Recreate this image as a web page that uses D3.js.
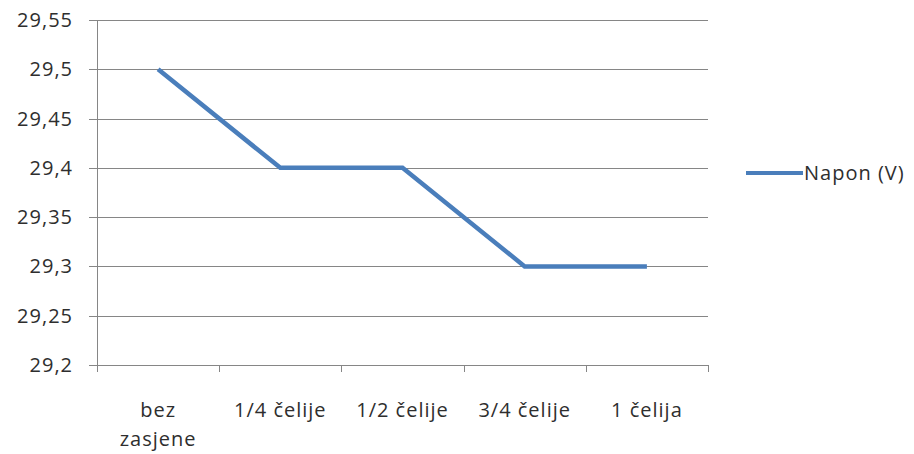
<!doctype html>
<html lang="hr">
<head>
<meta charset="UTF-8" />
<title>Napon (V)</title>
<script src="https://d3js.org/d3.v7.min.js"></script>
<style>
  body { margin: 0; background: #fff; }
  text { font-family: "Open Sans", "Noto Sans", sans-serif; fill: #2e2e2e; font-size: 20px; letter-spacing: 1px; }
</style>
</head>
<body>
<div id="graph"></div>
<script>
// data
var categories = [["bez", "zasjene"], ["1/4 čelije"], ["1/2 čelije"], ["3/4 čelije"], ["1 čelija"]];
var napon = [29.5, 29.4, 29.4, 29.3, 29.3];
var yTicks = [29.2, 29.25, 29.3, 29.35, 29.4, 29.45, 29.5, 29.55];
var seriesName = "Napon (V)";

var width = 914, height = 454;
var m = { left: 97, right: 708, top: 20, bottom: 365 };

var svg = d3.select("#graph").append("svg")
    .attr("width", width)
    .attr("height", height);

var x = d3.scaleBand()
    .domain(d3.range(categories.length))
    .range([m.left, m.right]);

var y = d3.scaleLinear()
    .domain([29.2, 29.55])
    .range([m.bottom, m.top]);

// gridlines
svg.append("g").selectAll("line")
    .data(yTicks)
    .enter().append("line")
    .attr("x1", m.left - 8)
    .attr("x2", m.right)
    .attr("y1", d => Math.round(y(d)) + 0.5)
    .attr("y2", d => Math.round(y(d)) + 0.5)
    .attr("stroke", "#868686");

// y axis line
svg.append("line")
    .attr("x1", m.left + 0.5).attr("x2", m.left + 0.5)
    .attr("y1", m.top).attr("y2", m.bottom + 0.5)
    .attr("stroke", "#868686");

// y labels
svg.append("g").selectAll("text")
    .data(yTicks)
    .enter().append("text")
    .attr("x", 73)
    .attr("y", d => y(d) + 7)
    .attr("text-anchor", "end")
    .text(d => String(d).replace(".", ","));

// x ticks
var xEdges = d3.range(categories.length + 1).map(i => i < categories.length ? x(i) : x(i - 1) + x.bandwidth());
svg.append("g").selectAll("line")
    .data(xEdges)
    .enter().append("line")
    .attr("x1", d => Math.round(d) + 0.5)
    .attr("x2", d => Math.round(d) + 0.5)
    .attr("y1", m.bottom)
    .attr("y2", m.bottom + 7)
    .attr("stroke", "#868686");

// x labels
var xl = svg.append("g").selectAll("text")
    .data(categories)
    .enter().append("text")
    .attr("x", (d, i) => x(i) + x.bandwidth() / 2)
    .attr("y", 417)
    .attr("text-anchor", "middle");
xl.selectAll("tspan")
    .data(d => d)
    .enter().append("tspan")
    .attr("x", function() { return this.parentNode.getAttribute("x"); })
    .attr("dy", (d, i) => i === 0 ? 0 : 29)
    .text(d => d);

// line
var line = d3.line()
    .x((d, i) => x(i) + x.bandwidth() / 2)
    .y(d => y(d));

svg.append("path")
    .datum(napon)
    .attr("d", line)
    .attr("fill", "none")
    .attr("stroke", "#4a7ebb")
    .attr("stroke-width", 4.5);

// legend
svg.append("line")
    .attr("x1", 746).attr("x2", 803)
    .attr("y1", 173).attr("y2", 173)
    .attr("stroke", "#4a7ebb")
    .attr("stroke-width", 4);
svg.append("text")
    .attr("x", 804)
    .attr("y", 180)
    .text(seriesName);
</script>
</body>
</html>
